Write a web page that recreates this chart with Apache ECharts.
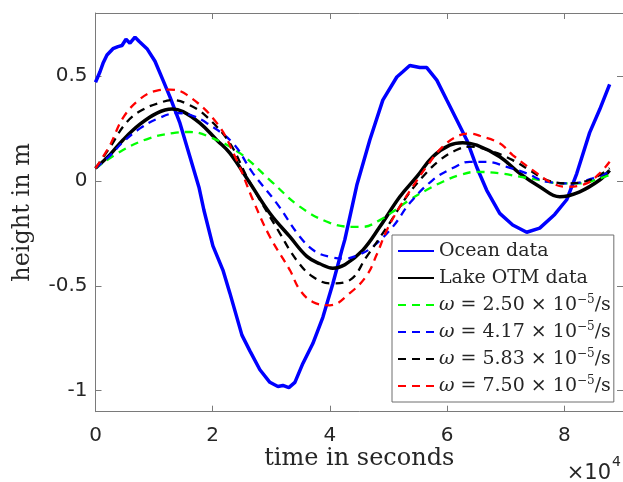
<!DOCTYPE html>
<html><head><meta charset="utf-8">
<script src="https://cdn.jsdelivr.net/npm/echarts@6/dist/echarts.min.js"></script>
<style>html,body{margin:0;padding:0;background:#fff}#c{width:623px;height:482px}</style>
</head><body><div id="c"></div>
<script>
// ---- data (time in seconds, height in m) ----
const xTicks = [0, 20000, 40000, 60000, 80000];
const yTicks = [-1, -0.5, 0, 0.5];
const seriesNames = ['Ocean data', 'Lake OTM data',
  'ω = 2.50 × 10⁻⁵/s', 'ω = 4.17 × 10⁻⁵/s', 'ω = 5.83 × 10⁻⁵/s', 'ω = 7.50 × 10⁻⁵/s'];

const oceanT = [0,770,1280,1960,2980,3840,4520,5200,5880,6740,7420,8780,10150,11510,12700,14410,16110,17650,18500,20030,21740,22930,24980,26340,28050,29750,31120,31970,32990,34020,35380,37080,38790,40490,42030,42540,44590,46800,49020,51410,52430,53620,54480,55330,56520,58230,59930,61640,63340,65050,66750,68970,71180,73570,75790,78350,80390,82110,84310,86020,87720];
const oceanH = [0.47,0.52,0.56,0.60,0.63,0.64,0.645,0.675,0.656,0.685,0.665,0.63,0.57,0.48,0.40,0.275,0.115,-0.03,-0.14,-0.31,-0.425,-0.535,-0.735,-0.81,-0.90,-0.96,-0.98,-0.975,-0.985,-0.96,-0.87,-0.775,-0.65,-0.49,-0.33,-0.28,-0.02,0.195,0.385,0.495,0.52,0.55,0.545,0.54,0.54,0.48,0.385,0.29,0.195,0.065,-0.045,-0.155,-0.21,-0.245,-0.225,-0.16,-0.09,0.035,0.23,0.34,0.46];

const lakeT = [0,2470,4690,7590,10490,13040,14920,17820,20720,22930,26340,29750,33160,36060,38280,40490,42540,45610,48510,51920,54820,57540,60440,62660,65050,68970,72380,75790,79200,82610,86020,87720];
const lakeH = [0.06,0.125,0.195,0.27,0.323,0.342,0.33,0.275,0.194,0.132,-0.01,-0.154,-0.266,-0.36,-0.395,-0.416,-0.40,-0.33,-0.219,-0.076,0.02,0.115,0.17,0.182,0.17,0.115,0.036,-0.028,-0.076,-0.052,0.004,0.05];

const w1T = [0,4690,9290,13210,16110,19520,24640,29750,34870,39980,43900,45610,48510,50720,53620,56470,59250,62150,64990,68970,72380,75790,79200,82610,86020,87720];
const w1H = [0.06,0.147,0.204,0.228,0.233,0.209,0.132,0.004,-0.123,-0.2,-0.219,-0.219,-0.187,-0.147,-0.09,-0.044,-0.004,0.028,0.043,0.036,0.02,0.004,-0.012,-0.012,0.012,0.028];

const w2T = [0,2470,4690,7590,10490,13900,16110,19010,23440,26850,30900,34870,37430,39980,42540,45100,47310,50720,53620,57540,60950,63850,66750,70160,73570,76980,81420,84820,87720];
const w2H = [0.06,0.12,0.185,0.25,0.295,0.323,0.315,0.275,0.18,0.037,-0.106,-0.266,-0.335,-0.362,-0.37,-0.35,-0.314,-0.219,-0.106,0.004,0.061,0.091,0.091,0.067,0.036,-0.004,-0.012,0.012,0.042];

const w3T = [0,2470,5320,8100,11510,13210,16110,18960,22930,26000,31460,34310,37080,40270,43390,46240,50210,53060,55840,58740,61580,63850,67770,71180,74080,76980,80390,84310,87720];
const w3H = [0.06,0.16,0.28,0.34,0.377,0.385,0.36,0.306,0.179,0.01,-0.25,-0.378,-0.457,-0.489,-0.473,-0.362,-0.2,-0.076,0.02,0.099,0.147,0.163,0.139,0.099,0.051,0.004,-0.012,0.004,0.06];

const w4T = [0,2470,4690,7590,10490,12700,15600,20720,24080,26850,29750,33160,34870,37080,39980,43390,46290,48000,49700,51920,54130,56470,59250,62150,63850,65560,68970,71180,74590,78000,80390,83800,86020,87720];
const w4H = [0.06,0.17,0.30,0.39,0.43,0.435,0.41,0.275,0.099,-0.09,-0.266,-0.425,-0.52,-0.577,-0.593,-0.535,-0.45,-0.35,-0.235,-0.123,-0.028,0.067,0.163,0.218,0.225,0.215,0.179,0.123,0.051,-0.012,-0.028,-0.012,0.036,0.091];

// ---- styling ----
const zip = (t, h) => t.map((v, i) => [v, h[i]]);
const axisCol = '#7a7a7a';
const txtCol = '#262626';
const serif = 'DejaVu Serif';
const sans = 'DejaVu Sans';
const dash = [8, 6];

const styles = [
  {color: '#0000ff', width: 3.5, type: 'solid', data: zip(oceanT, oceanH), smooth: false},
  {color: '#000000', width: 3.5, type: 'solid', data: zip(lakeT, lakeH), smooth: 0.4},
  {color: '#00ff00', width: 2.3, type: dash, data: zip(w1T, w1H), smooth: 0.4},
  {color: '#0000ff', width: 2.3, type: dash, data: zip(w2T, w2H), smooth: 0.4},
  {color: '#000000', width: 2.3, type: dash, data: zip(w3T, w3H), smooth: 0.4},
  {color: '#ff0000', width: 2.3, type: dash, data: zip(w4T, w4H), smooth: 0.4}
];

const series = styles.map((s, i) => ({
  name: seriesNames[i], type: 'line', data: s.data, smooth: s.smooth,
  symbol: 'none', showSymbol: false, color: s.color,
  lineStyle: {color: s.color, width: s.width, type: s.type},
  xAxisIndex: 0, yAxisIndex: 0, z: 2 + i
}));

const tickCommon = {show: true, inside: true, length: 6, lineStyle: {color: axisCol, width: 1}};

const option = {
  animation: false,
  backgroundColor: '#ffffff',
  grid: {left: 95.5, top: 13, right: 0, bottom: 70.3, containLabel: false},
  xAxis: [{
    type: 'value', min: 0, max: 90000, position: 'bottom',
    axisLine: {show: true, onZero: false, lineStyle: {color: axisCol, width: 1}},
    axisTick: Object.assign({customValues: xTicks}, tickCommon),
    axisLabel: {customValues: xTicks, formatter: v => String(v / 10000), color: txtCol,
      fontFamily: sans, fontSize: 20, margin: 14},
    splitLine: {show: false},
    name: 'time in seconds', nameLocation: 'middle', nameGap: 35, nameMoveOverlap: false,
    nameTextStyle: {fontFamily: serif, fontSize: 24, color: txtCol}
  }, {
    type: 'value', min: 0, max: 90000, position: 'top',
    axisLine: {show: true, onZero: false, lineStyle: {color: axisCol, width: 1}},
    axisTick: Object.assign({customValues: xTicks}, tickCommon),
    axisLabel: {show: false}, splitLine: {show: false}
  }],
  yAxis: [{
    type: 'value', min: -1.1, max: 0.8, position: 'left',
    axisLine: {show: true, onZero: false, lineStyle: {color: axisCol, width: 1}},
    axisTick: Object.assign({customValues: yTicks}, tickCommon),
    axisLabel: {customValues: yTicks, formatter: v => String(v), color: txtCol,
      fontFamily: sans, fontSize: 20, margin: 8},
    splitLine: {show: false},
    name: 'height in m', nameLocation: 'middle', nameGap: 61, nameRotate: 90, nameMoveOverlap: false,
    nameTextStyle: {fontFamily: serif, fontSize: 24, color: txtCol}
  }, {
    type: 'value', min: -1.1, max: 0.8, position: 'right',
    axisLine: {show: true, onZero: false, lineStyle: {color: axisCol, width: 1}},
    axisTick: Object.assign({customValues: yTicks}, tickCommon),
    axisLabel: {show: false}, splitLine: {show: false}
  }],
  legend: {
    orient: 'vertical', left: 392, top: 235,
    padding: [5, 3, 5, 5], itemGap: 5, itemWidth: 36, itemHeight: 14,
    backgroundColor: '#ffffff', borderColor: '#6e6e6e', borderWidth: 1, borderRadius: 0,
    itemStyle: {opacity: 0},
    data: seriesNames,
    formatter: name => name.replace(/^ω/, '{i|ω}').replace('10⁻⁵', '10{s|−5}'),
    textStyle: {
      fontFamily: serif, fontSize: 19, color: txtCol, lineHeight: 22,
      rich: {
        i: {fontFamily: serif, fontStyle: 'italic', fontSize: 19, color: txtCol, lineHeight: 22},
        s: {fontFamily: serif, fontSize: 12, color: txtCol, lineHeight: 11, verticalAlign: 'top'}
      }
    }
  },
  graphic: [
    {type: 'text', right: 12, top: 463, style: {text: '×10', fontFamily: sans, fontSize: 21, fill: txtCol}},
    {type: 'text', right: 2, top: 455, style: {text: '4', fontFamily: sans, fontSize: 14, fill: txtCol}}
  ],
  series: series
};

const chart = echarts.init(document.getElementById('c'), null, {renderer: 'canvas'});
chart.setOption(option);
</script>
</body></html>
